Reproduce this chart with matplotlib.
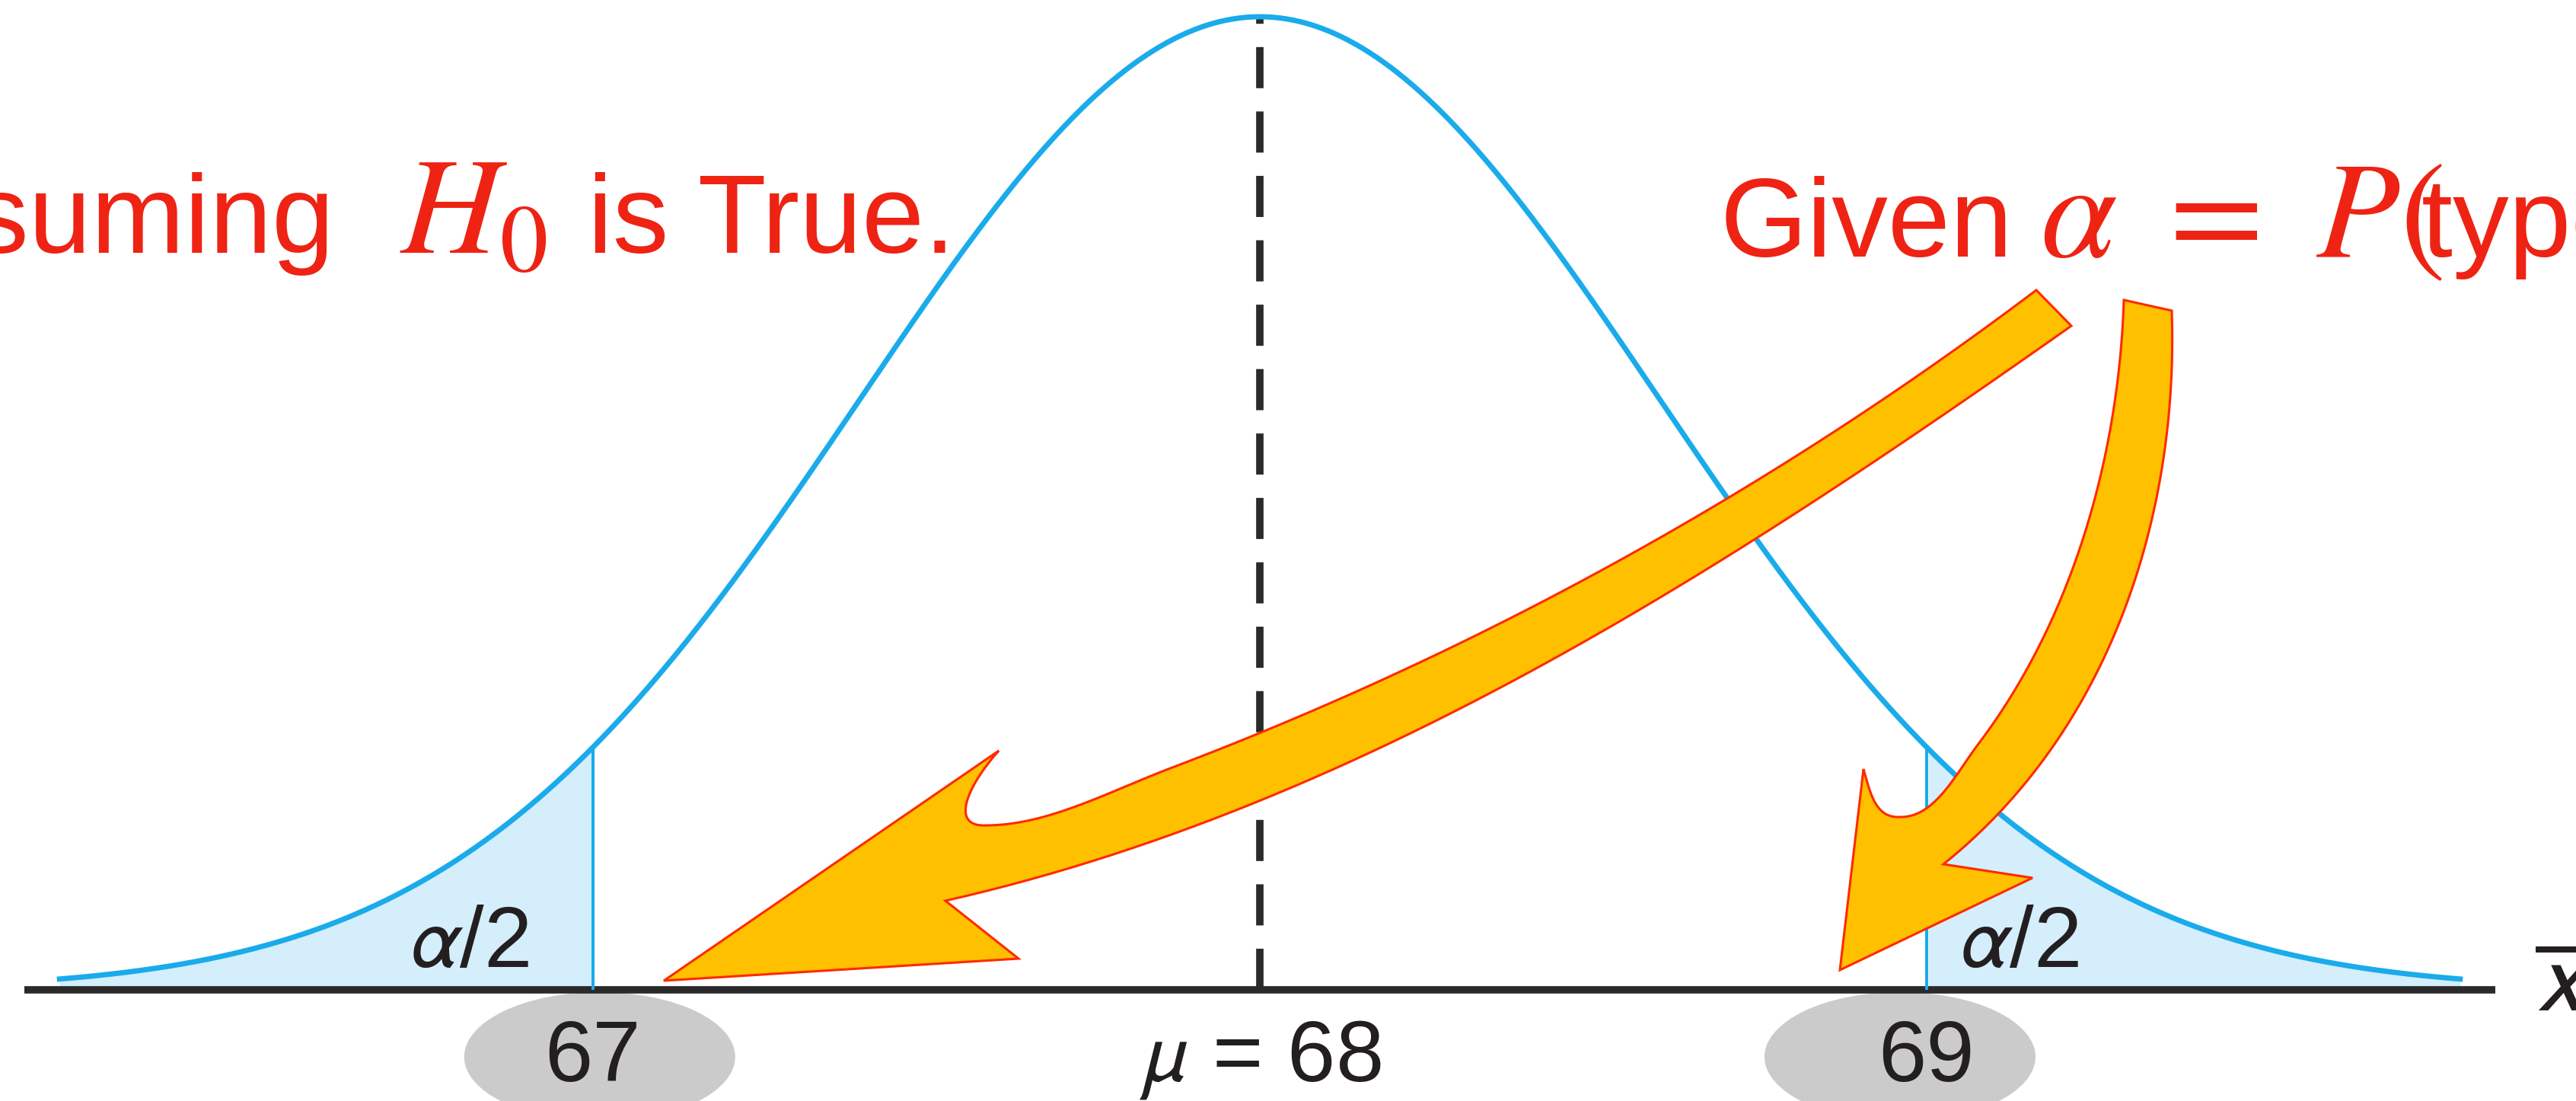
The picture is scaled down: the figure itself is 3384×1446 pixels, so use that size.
import numpy as np
import matplotlib
matplotlib.use('Agg')  # no display
import matplotlib.pyplot as plt
from matplotlib.patches import Ellipse, Polygon

# sampling distribution of x-bar under H0
mu = 68
sigma = 0.6
span = 3  # curve drawn out to +/- 3 sigma
crit_lo, crit_hi = 67, 69
tick_vals = [67, 68, 69]
tick_text = ['67', r'$\mu$ = 68', '69']
circled = [67, 69]
tail_label = r'$\alpha$/2'

W, H = 3384, 1446
plt.rcParams['font.family'] = ['Liberation Sans', 'DejaVu Sans']
plt.rcParams['lines.scale_dashes'] = False

fig = plt.figure(figsize=(W / 100, H / 100), dpi=100, facecolor='white')
ax = fig.add_axes([0, 0, 1, 1])
ax.axis('off')

peak = 1 / (sigma * np.sqrt(2 * np.pi))

# picture layout (pixels from the top-left corner)
mu_px, unit_px = 1655, 876
base_px, top_px = 1300, 22
yscale = (base_px - top_px) / peak


def dx(xp):
    return mu + (np.asarray(xp, float) - mu_px) / unit_px


def dy(yp):
    return (base_px - np.asarray(yp, float)) / yscale


ax.set_xlim(dx(0), dx(W))
ax.set_ylim(dy(H), dy(0))

x = np.linspace(mu - span * sigma, mu + span * sigma, 800)
pdf = peak * np.exp(-0.5 * ((x - mu) / sigma) ** 2)

blue = '#1AABEB'
ink = '#231F20'

# shaded tails
for m in (x <= crit_lo, x >= crit_hi):
    ax.fill_between(x[m], 0, pdf[m], color='#D4EEFB', lw=0, zorder=1)

# grey ovals behind the critical values
for c in circled:
    off = 0.0 if c < mu else -0.05
    ax.add_patch(Ellipse((c + 0.01 + off, dy(1388)), 356 / unit_px, 170 / yscale,
                         color='#CBCBCB', lw=0, zorder=0.5))

# horizontal axis
ax.plot([dx(32), dx(3278)], [0, 0], color='#2A2A2A', lw=7,
        solid_capstyle='butt', zorder=3)

# mean line
ax.plot([mu, mu], [0, peak], color='#2A2A2A', lw=7, dashes=(38.9, 22),
        zorder=2)

# curve and critical lines
ax.plot(x, pdf, color=blue, lw=5, zorder=4)
crit_h = peak * np.exp(-0.5 * ((np.array([crit_lo, crit_hi]) - mu) / sigma) ** 2)
ax.vlines([crit_lo, crit_hi], 0, crit_h, color=blue, lw=2.9, zorder=4)

# labels on the axis
for v, t in zip(tick_vals, tick_text):
    ax.text(v, dy(1420), t, ha='center', va='baseline', fontsize=82,
            color=ink, math_fontfamily='stixsans', zorder=5)

ax.text(dx(616), dy(1270), tail_label, ha='center', va='baseline', fontsize=82,
        color=ink, math_fontfamily='stixsans', zorder=5)
ax.text(dx(2652), dy(1270), tail_label, ha='center', va='baseline', fontsize=82,
        color=ink, math_fontfamily='stixsans', zorder=5)
ax.text(dx(3330), dy(1327), r'$\overline{x}$', ha='left', va='baseline',
        fontsize=95, color=ink, math_fontfamily='stixsans', zorder=5)

# red annotation text
red = '#EE2314'
ax.text(dx(440), dy(332), 'Assuming', ha='right', va='baseline',
        fontsize=106, color=red, zorder=5)
ax.text(dx(525), dy(332), r'$H_0$', ha='left', va='baseline',
        fontsize=130, color=red, math_fontfamily='stix', zorder=5)
ax.text(dx(772), dy(332), 'is True.', ha='left', va='baseline',
        fontsize=106, color=red, zorder=5)
ax.text(dx(2260), dy(337), 'Given', ha='left', va='baseline',
        fontsize=106, color=red, zorder=5)
ax.text(dx(2680), dy(337), r'$\alpha\ =\ P($', ha='left', va='baseline',
        fontsize=130, color=red, math_fontfamily='stix', zorder=5)
ax.text(dx(3181), dy(337), 'type I error)', ha='left', va='baseline',
        fontsize=106, color=red, zorder=5)


# curved block arrows (outline in picture pixels)
def bez(p0, c1, c2, p3, n=60):
    t = np.linspace(0, 1, n)[:, None]
    p0, c1, c2, p3 = (np.asarray(q, float) for q in (p0, c1, c2, p3))
    return ((1 - t) ** 3 * p0 + 3 * (1 - t) ** 2 * t * c1
            + 3 * (1 - t) * t ** 2 * c2 + t ** 3 * p3)


def fit_bezier(pts):
    # one cubic through rough outline points, ends pinned
    p = np.asarray(pts, float)
    d = np.r_[0, np.cumsum(np.hypot(*np.diff(p, axis=0).T))]
    t = (d / d[-1])[:, None]
    b0, b1 = (1 - t) ** 3, 3 * (1 - t) ** 2 * t
    b2, b3 = 3 * (1 - t) * t ** 2, t ** 3
    rhs = p - b0 * p[0] - b3 * p[-1]
    c, *_ = np.linalg.lstsq(np.hstack([b1, b2]), rhs, rcond=None)
    return p[0], c[0], c[1], p[-1]


def block_arrow(shaft_a, ear, head, shaft_b):
    p0, c1, c2, p3 = fit_bezier(shaft_a)
    a = bez(p0, c1, c2, p3)
    s = p3 - c2
    s /= np.hypot(*s)
    bottom, h1, h2, barb, barb_in = ear
    # shaft edge rolls into the curled ear, then up to the barb
    e1 = bez(p3, p3 + s * h1, (bottom[0] + h1 * 0.9, bottom[1]), bottom)
    e2 = bez(bottom, (bottom[0] - h2, bottom[1] + 2), barb_in, barb)
    b = bez(*fit_bezier(shaft_b))
    pts = np.vstack([a, e1[1:], e2[1:], np.asarray(head, float), b])
    pts = np.column_stack([dx(pts[:, 0]), dy(pts[:, 1])])
    ax.add_patch(Polygon(pts, closed=True, facecolor='#FFC000',
                         edgecolor='#FF2A00', lw=2.2, joinstyle='miter',
                         zorder=6))


block_arrow(
    [(2675, 381), (2526, 491), (2312, 627), (2083, 760), (1792, 905), (1652, 963),
     (1540, 1008)],
    ((1295, 1084), 90, 48, (1312, 986), (1271, 1032)),
    [(872, 1288), (1338, 1259)],
    [(1242, 1183), (1394, 1147), (1538, 1103), (1720, 1022), (1884, 945),
     (2060, 856), (2235, 740), (2427, 635), (2580, 539), (2721, 428)])

block_arrow(
    [(2790, 394), (2786, 491), (2763, 611), (2740, 692), (2717, 752), (2687, 832),
     (2649, 913), (2599, 977)],
    ((2497, 1073), 50, 32, (2448, 1010), (2458, 1046)),
    [(2417, 1274), (2670, 1153)],
    [(2553, 1135), (2613, 1077), (2679, 997), (2748, 913), (2786, 812),
     (2817, 712), (2840, 611), (2854, 470), (2853, 408)])

fig.savefig('out.png', dpi=100, facecolor='white')
